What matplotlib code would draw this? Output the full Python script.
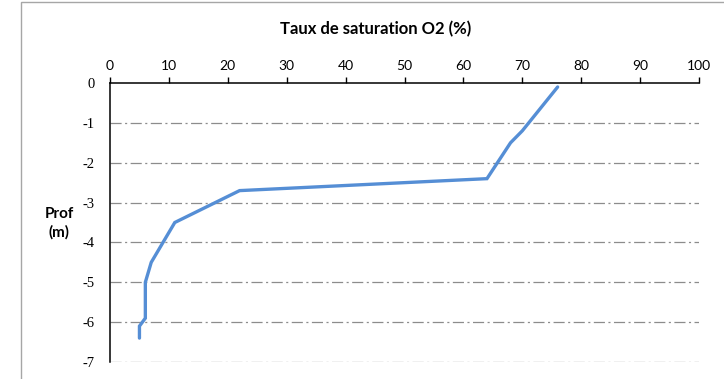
import matplotlib.pyplot as plt
from matplotlib.patches import Rectangle

# Oxygen saturation profile with depth
saturation = [76, 70, 68, 64, 22, 11, 7, 6, 6, 5, 5]
depth = [-0.1, -1.2, -1.5, -2.4, -2.7, -3.5, -4.5, -5.0, -5.9, -6.1, -6.4]

x_ticks = list(range(0, 101, 10))
y_ticks = list(range(0, -8, -1))

plt.rcParams['lines.scale_dashes'] = False

fig = plt.figure(figsize=(7.24, 3.79), dpi=100)
ax = fig.add_axes([110 / 724, 1 - 362 / 379, 589 / 724, 279 / 379])

# chart frame
fig.patches.append(Rectangle((21 / 724, -0.1), 1.2, 1.1 - 3 / 379 + 0.002,
                             transform=fig.transFigure, fill=False,
                             edgecolor='#a6a6a6', linewidth=1.0))

for y in y_ticks[1:]:
    ax.axhline(y, color='#8c8c8c', linewidth=0.9,
               linestyle=(0, (8, 2.5, 1.5, 2.5)), zorder=1)

ax.plot(saturation, depth, color='#558ed5', linewidth=2.4,
        solid_capstyle='round', solid_joinstyle='miter', zorder=3)

ax.set_xlim(0, 100)
ax.set_ylim(-7, 0)
ax.set_xticks(x_ticks)
ax.set_yticks(y_ticks)
ax.set_yticklabels([str(v) for v in y_ticks], fontfamily='Liberation Serif', fontsize=10.5)
ax.xaxis.tick_top()
ax.tick_params(axis='x', direction='out', length=4, width=1, pad=4,
               labelsize=10, labelcolor='#000000')
ax.tick_params(axis='y', length=0, pad=11)
for lbl in ax.get_xticklabels():
    lbl.set_fontfamily('Lato')

ax.spines['bottom'].set_visible(False)
ax.spines['right'].set_visible(False)
ax.spines['top'].set_linewidth(1.1)
ax.spines['left'].set_linewidth(1.1)

fig.text(375.5 / 724, 1 - 29 / 379, 'Taux de saturation O2 (%)', ha='center', va='center',
         fontfamily='Lato', fontweight='bold', fontsize=12)
fig.text(59 / 724, 1 - 223 / 379, 'Prof\n(m)', ha='center', va='center',
         fontfamily='Lato', fontweight='bold', fontsize=11, linespacing=1.35)

fig.savefig('out.png', dpi=100)
